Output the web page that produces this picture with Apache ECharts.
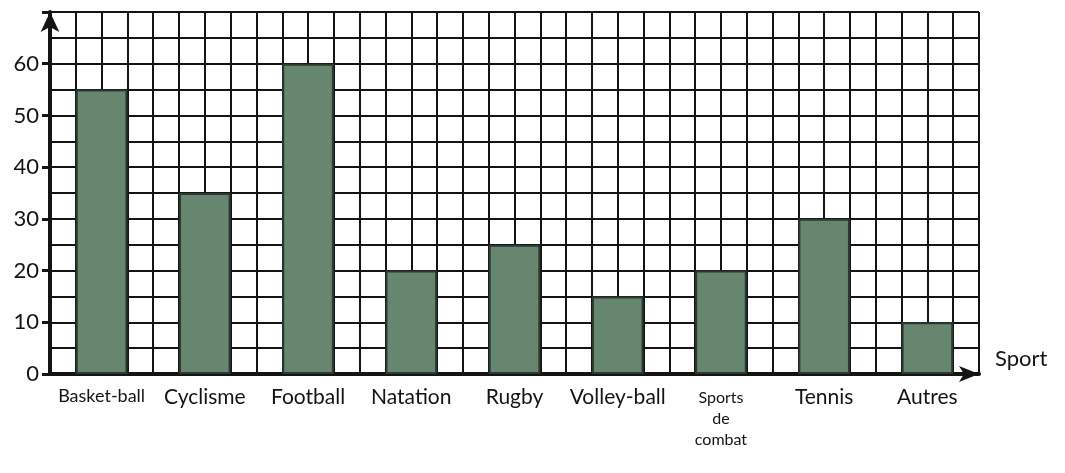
<!DOCTYPE html>
<html>
<head>
<meta charset="utf-8">
<script src="https://cdn.jsdelivr.net/npm/echarts@6/dist/echarts.min.js"></script>
<style>
  html, body { margin: 0; padding: 0; background: #fff; }
  #chart { width: 1065px; height: 473px; }
</style>
</head>
<body>
<div id="chart"></div>
<script>
// sports pratiqués
var categories = ['Basket-ball', 'Cyclisme', 'Football', 'Natation', 'Rugby', 'Volley-ball', 'Sports\nde\ncombat', 'Tennis', 'Autres'];
var values = [55, 35, 60, 20, 25, 15, 20, 30, 10];
var yTicks = [0, 10, 20, 30, 40, 50, 60];

var myChart = echarts.init(document.getElementById('chart'));
var ink = '#141414';

var option = {
    backgroundColor: '#fff',
    textStyle: { fontFamily: 'Lato' },
    grid: { left: 50, right: 86, top: 12, bottom: 99 },
    xAxis: [{
        type: 'category',
        data: categories,
        name: 'Sport',
        nameLocation: 'end',
        nameGap: 16,
        nameTextStyle: { color: ink, fontSize: 22, verticalAlign: 'bottom', padding: [0, 0, 4, 0] },
        axisLine: { show: true, symbol: ['none', 'arrow'], symbolSize: [12, 20], lineStyle: { color: ink, width: 4 } },
        axisTick: { show: false },
        splitLine: { show: false },
        axisLabel: {
            interval: 0,
            margin: 13,
            color: ink,
            fontSize: 21,
            formatter: function (v) {
                if (v === 'Basket-ball') return '{s|' + v + '}';
                if (v.indexOf('\n') > -1) return '{m|' + v.split('\n').join('}\n{m|') + '}';
                return v;
            },
            rich: {
                s: { fontSize: 18, color: ink },
                m: { fontSize: 16, lineHeight: 21, color: ink }
            }
        }
    }, {
        // quadrillage vertical (4 carreaux par catégorie)
        type: 'value',
        position: 'bottom',
        min: 0,
        max: categories.length * 4,
        interval: 1,
        axisLine: { show: false },
        axisTick: { show: false },
        axisLabel: { show: false },
        splitLine: { show: true, lineStyle: { color: ink, width: 2 } }
    }],
    yAxis: {
        type: 'value',
        min: 0,
        max: 70,
        interval: 10,
        axisLine: { show: true, symbol: ['none', 'arrow'], symbolSize: [14, 20], lineStyle: { color: ink, width: 4 } },
        axisTick: { show: true, length: 8, lineStyle: { color: ink, width: 3 } },
        minorTick: { show: false, splitNumber: 2 },
        splitLine: { show: true, lineStyle: { color: ink, width: 2 } },
        minorSplitLine: { show: true, lineStyle: { color: ink, width: 2 } },
        axisLabel: {
            color: ink,
            fontSize: 22,
            margin: 11,
            formatter: function (v) {
                return yTicks.indexOf(v) > -1 ? v : '';
            }
        }
    },
    series: [{
        type: 'bar',
        xAxisIndex: 0,
        data: values,
        barWidth: '50%',
        itemStyle: { color: '#66866f', borderColor: '#2c3830', borderWidth: 2 }
    }]
};
myChart.setOption(option);
</script>
</body>
</html>
